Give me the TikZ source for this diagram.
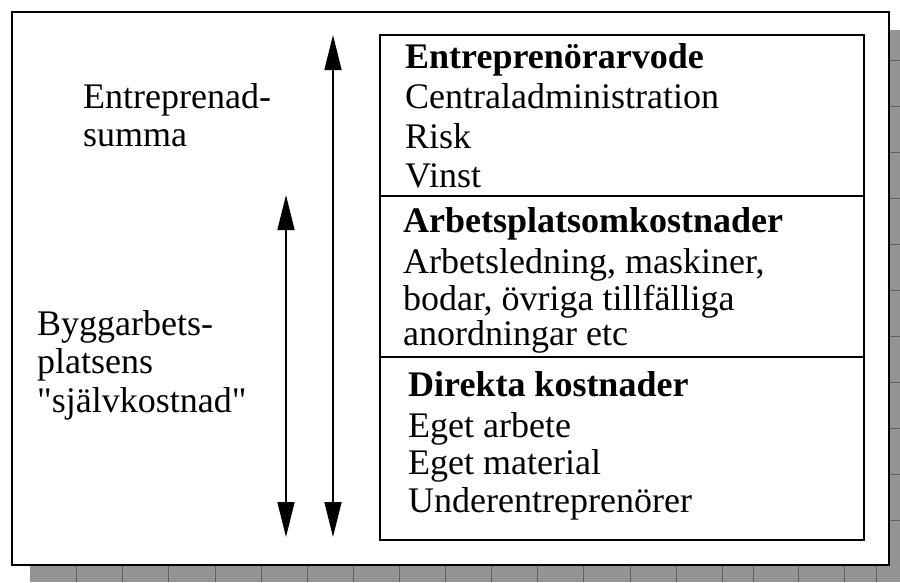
\documentclass[tikz,border=0pt]{standalone}
\usepackage{fontspec}
\setmainfont{Liberation Serif}[Ligatures=TeXOff]
\usetikzlibrary{arrows.meta}
\tikzset{
  frame/.style={draw=black, line width=2.5pt, fill=white},
  box/.style={draw=black, line width=2pt},
  shadow/.style={fill=black!42, draw=none},
  shadowline/.style={draw=black!62, line width=0.8pt},
  txt/.style={anchor=base west, inner sep=0pt, font=\fontsize{36}{38}\selectfont},
  btxt/.style={txt, font=\fontsize{36}{38}\selectfont\bfseries},
  dblarrow/.style={line width=1.6pt, {Triangle[width=17pt,length=35pt]}-{Triangle[width=17pt,length=35pt]}}
}
\begin{document}
\begin{tikzpicture}[x=1pt,y=-1pt]
\useasboundingbox (0,0) rectangle (900,582);
% shadow
\fill[shadow] (30,565) rectangle (900,582);
\fill[shadow] (889,30) rectangle (900,582);
\foreach \xx in {76,122,168,215,261,307,353,399,445,491,537,583,630,676,722,753,798,844,876}
  \draw[shadowline] (\xx,566) -- (\xx,582);
\foreach \yy in {60,106,152,198,244,290,336,382,428,474,520}
  \draw[shadowline] (890,\yy) -- (900,\yy);
% outer frame
\draw[frame] (12,12) rectangle (889,565);
% inner box
\draw[box] (380,35) coordinate (boxtl) rectangle (864,540) coordinate (boxbr);
\coordinate (d1l) at (380,196); \coordinate (d1r) at (864,196);
\coordinate (d2l) at (380,357); \coordinate (d2r) at (864,357);
\draw[box] (d1l) -- (d1r);
\draw[box] (d2l) -- (d2r);
% block 1
\node[btxt] (h1) at (405,68) {Entreprenörarvode};
\node[txt] (l11) at (405,108) {Centraladministration};
\node[txt] (l12) at (405,148) {Risk};
\node[txt] (l13) at (405,187) {Vinst};
% block 2
\node[btxt] (h2) at (403,232) {Arbetsplatsomkostnader};
\node[txt] (l21) at (403,273) {Arbetsledning, maskiner,};
\node[txt] (l22) at (403,310) {bodar, övriga tillfälliga};
\node[txt] (l23) at (403,345) {anordningar etc};
% block 3
\node[btxt] (h3) at (408,396) {Direkta kostnader};
\node[txt] (l31) at (408,437) {Eget arbete};
\node[txt] (l32) at (408,474) {Eget material};
\node[txt] (l33) at (408,512) {Underentreprenörer};
% left labels
\node[txt] (e1) at (83,108) {Entreprenad-};
\node[txt] (e2) at (83,146) {summa};
\node[txt] (b1) at (37,335) {Byggarbets-};
\node[txt] (b2) at (37,373) {platsens};
\node[txt] (b3) at (37,412) {"självkostnad"};
% arrows
\coordinate (longtop) at (333,35);
\coordinate (longbot) at (333,537);
\coordinate (shorttop) at (286,195);
\coordinate (shortbot) at (286,537);
\draw[dblarrow] (longtop) -- (longbot);
\draw[dblarrow] (shorttop) -- (shortbot);
\end{tikzpicture}
\end{document}
